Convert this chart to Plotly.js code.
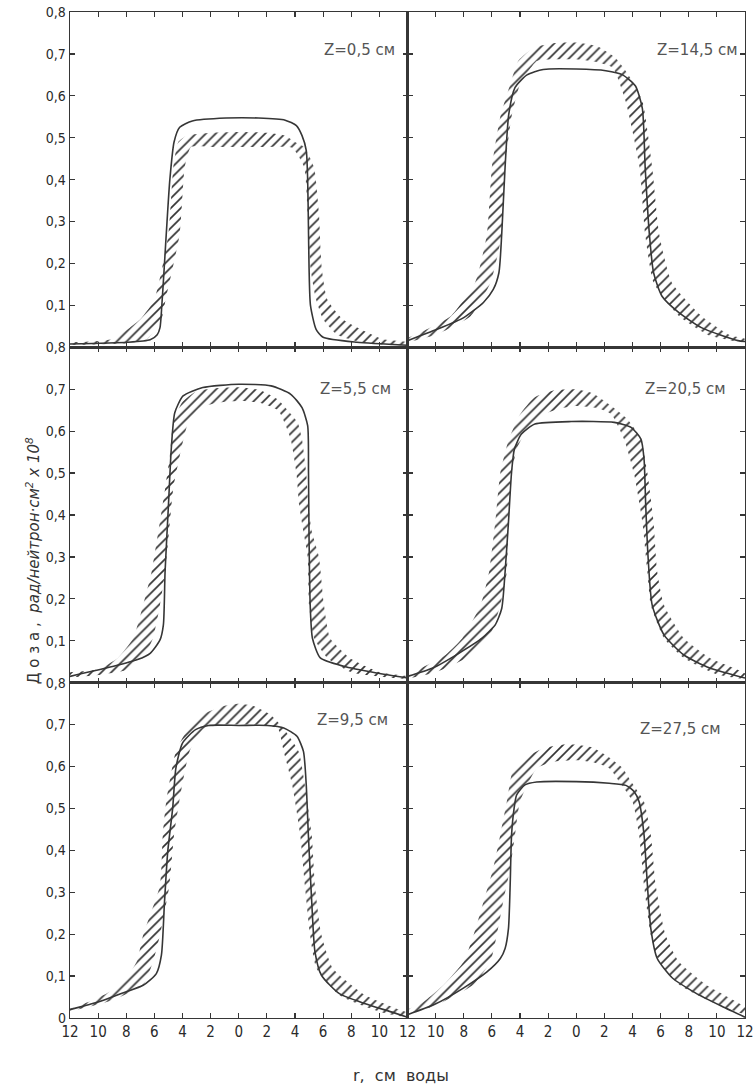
<!DOCTYPE html>
<html>
<head>
<meta charset="utf-8">
<script src="https://cdn.plot.ly/plotly-3.0.1.min.js"></script>
<style>html,body{margin:0;padding:0;background:#fff;}#chart{width:754px;height:1086px;}</style>
</head>
<body>
<div id="chart"></div>
<script>
// ---- data: r (cm water), dose (rad/neutron·cm² ×10^8) ----
const xTickVals = [-12,-10,-8,-6,-4,-2,0,2,4,6,8,10,12];
const xTickText = ['12','10','8','6','4','2','0','2','4','6','8','10','12'];
const yTickVals = [0,0.1,0.2,0.3,0.4,0.5,0.6,0.7,0.8];
const yTickText = ['0','0,1','0,2','0,3','0,4','0,5','0,6','0,7','0,8'];
const panelLabels = ['Z=0,5 см','Z=14,5 см','Z=5,5 см','Z=20,5 см','Z=9,5 см','Z=27,5 см'];

// Z = 0,5 cm
const calc_05 = [[-12,0.008],[-7.9,0.012],[-6.3,0.018],[-5.8,0.03],[-5.6,0.047],[-5.47,0.1],[-5.3,0.19],[-5.1,0.3],[-4.9,0.4],[-4.6,0.49],[-4.2,0.525],[-3.3,0.54],[-0.9,0.547],[1.4,0.547],[3.3,0.542],[4.1,0.529],[4.5,0.505],[4.8,0.47],[4.9,0.4],[4.95,0.3],[5.0,0.19],[5.1,0.1],[5.5,0.043],[6.0,0.024],[8.4,0.012],[12,0.005]];
const expOut_05 = [[-12,0.012],[-9,0.02],[-7,0.067],[-6,0.114],[-5,0.27],[-4.65,0.43],[-4.3,0.49],[-3.7,0.505],[-2,0.512],[0,0.514],[2,0.512],[3.3,0.505],[4.0,0.49],[4.65,0.478],[5.35,0.43],[5.7,0.32],[5.9,0.19],[6.3,0.114],[7.4,0.067],[10.2,0.02],[12,0.012]];
const expIn_05 = [[-12,0.006],[-8,0.01],[-6.5,0.02],[-5.5,0.067],[-5.2,0.114],[-4.2,0.27],[-3.84,0.43],[-3.4,0.478],[-2,0.478],[0,0.478],[2,0.478],[3.8,0.476],[4.65,0.43],[4.9,0.32],[5.1,0.19],[5.5,0.114],[6.0,0.067],[7,0.03],[9,0.01],[12,0.006]];

// Z = 14,5 cm
const calc_145 = [[-12,0.016],[-9.9,0.043],[-8,0.071],[-6.6,0.107],[-5.9,0.138],[-5.5,0.178],[-5.3,0.27],[-5.06,0.43],[-4.8,0.556],[-4.35,0.62],[-3.5,0.65],[-2.35,0.663],[0,0.664],[2.1,0.66],[3.3,0.65],[4.2,0.624],[4.7,0.57],[4.9,0.43],[5.2,0.27],[5.5,0.178],[6.1,0.122],[7.3,0.083],[8.9,0.047],[11.5,0.016],[12,0.014]];
const expOut_145 = [[-12,0.022],[-10.5,0.045],[-8.9,0.075],[-7.2,0.154],[-6.35,0.27],[-6.0,0.43],[-5.4,0.55],[-4.7,0.627],[-4.1,0.685],[-3.0,0.715],[-1.5,0.726],[0,0.727],[1.5,0.718],[2.8,0.69],[3.8,0.645],[4.7,0.588],[5.4,0.43],[5.9,0.27],[6.8,0.154],[8.9,0.075],[11,0.028],[12,0.02]];
const expIn_145 = [[-12,0.012],[-10,0.03],[-7.5,0.075],[-6.1,0.154],[-5.3,0.27],[-5.06,0.43],[-4.6,0.55],[-4.0,0.627],[-2.8,0.683],[-1.5,0.687],[0,0.687],[1.5,0.68],[2.6,0.667],[3.5,0.588],[4.5,0.43],[4.9,0.27],[5.5,0.154],[7.3,0.075],[9.5,0.028],[12,0.012]];

// Z = 5,5 cm
const calc_55 = [[-12,0.015],[-8.9,0.039],[-7.2,0.055],[-6.3,0.07],[-5.6,0.102],[-5.36,0.138],[-5.24,0.264],[-5.0,0.423],[-4.8,0.557],[-4.55,0.644],[-3.96,0.684],[-2.56,0.704],[0,0.712],[2.3,0.708],[3.7,0.688],[4.5,0.656],[4.9,0.613],[4.96,0.502],[5.0,0.344],[5.08,0.185],[5.24,0.106],[5.8,0.059],[7.46,0.039],[9.8,0.023],[12,0.011]];
const expOut_55 = [[-12,0.025],[-10,0.032],[-8.6,0.059],[-7.5,0.106],[-6.8,0.185],[-6.2,0.264],[-5.8,0.344],[-5.24,0.462],[-4.9,0.54],[-4.66,0.62],[-4.0,0.67],[-3.0,0.695],[-1.5,0.703],[0,0.705],[1.5,0.698],[2.8,0.675],[3.6,0.645],[4.2,0.62],[4.5,0.58],[4.8,0.5],[4.95,0.42],[5.2,0.36],[5.7,0.3],[6.06,0.185],[6.5,0.106],[7.9,0.059],[10,0.025],[12,0.015]];
const expIn_55 = [[-12,0.012],[-10,0.018],[-8,0.03],[-6.8,0.059],[-6.1,0.106],[-5.6,0.185],[-5.24,0.264],[-5.0,0.344],[-4.66,0.462],[-4.2,0.54],[-3.6,0.62],[-2.8,0.655],[-1.5,0.668],[0,0.672],[1.5,0.668],[2.8,0.65],[3.26,0.62],[3.7,0.58],[4.1,0.5],[4.3,0.423],[4.6,0.36],[4.9,0.3],[5.0,0.185],[5.36,0.106],[6.3,0.059],[8,0.025],[12,0.01]];

// Z = 20,5 cm
const calc_205 = [[-12,0.015],[-10.2,0.035],[-8.35,0.07],[-6.7,0.106],[-5.76,0.138],[-5.3,0.177],[-5.06,0.264],[-4.82,0.383],[-4.6,0.502],[-4.4,0.557],[-3.9,0.593],[-2.94,0.617],[-0.35,0.623],[2.7,0.621],[3.9,0.609],[4.6,0.581],[4.82,0.534],[4.94,0.423],[5.1,0.304],[5.4,0.185],[6.24,0.114],[7.65,0.066],[9.5,0.035],[12,0.011]];
const expOut_205 = [[-12,0.018],[-11,0.035],[-9.3,0.066],[-8.1,0.106],[-6.8,0.185],[-6.2,0.264],[-5.76,0.383],[-5.4,0.5],[-4.8,0.58],[-4.0,0.64],[-3.0,0.68],[-1.5,0.698],[0,0.70],[1.2,0.69],[2.3,0.665],[3.6,0.63],[4.6,0.581],[5.06,0.5],[5.5,0.383],[5.76,0.264],[6.24,0.185],[7.65,0.106],[9.5,0.059],[12,0.022]];
const expIn_205 = [[-12,0.01],[-10,0.025],[-7.4,0.066],[-6.2,0.106],[-5.4,0.185],[-4.94,0.264],[-4.82,0.383],[-4.6,0.5],[-4.2,0.56],[-3.4,0.61],[-2.3,0.64],[-1.0,0.655],[0,0.66],[1.5,0.655],[2.5,0.64],[3.4,0.581],[4.1,0.5],[4.7,0.383],[5.06,0.264],[5.3,0.185],[6.24,0.106],[7.65,0.059],[10,0.02],[12,0.01]];

// Z = 9,5 cm
const calc_95 = [[-12,0.02],[-10,0.038],[-8.4,0.058],[-6.8,0.078],[-5.86,0.106],[-5.5,0.15],[-5.28,0.277],[-5.05,0.397],[-4.7,0.5],[-4.47,0.596],[-4.0,0.656],[-3.07,0.688],[-2.14,0.698],[0,0.698],[2.05,0.698],[3.2,0.692],[4.14,0.672],[4.6,0.636],[4.8,0.556],[4.95,0.437],[5.19,0.277],[5.42,0.158],[5.88,0.102],[7.16,0.058],[9.0,0.034],[10.9,0.014],[12,0.002]];
const expOut_95 = [[-12,0.022],[-10.2,0.045],[-8.4,0.078],[-7.26,0.134],[-6.8,0.198],[-5.6,0.317],[-5.4,0.437],[-5.16,0.516],[-4.47,0.636],[-3.6,0.69],[-2.5,0.725],[-1,0.745],[0,0.75],[1,0.745],[2.2,0.725],[3.2,0.69],[4.26,0.636],[4.7,0.556],[5.19,0.437],[5.42,0.317],[5.88,0.198],[6.7,0.118],[9.0,0.054],[11,0.025],[12,0.012]];
const expIn_95 = [[-12,0.016],[-10,0.032],[-8.8,0.045],[-6.8,0.078],[-6.1,0.134],[-5.6,0.198],[-4.93,0.317],[-4.6,0.437],[-4.23,0.516],[-3.5,0.636],[-2.5,0.69],[-1,0.70],[0,0.70],[2,0.698],[2.8,0.69],[3.2,0.636],[3.8,0.556],[4.37,0.437],[4.7,0.317],[5.07,0.198],[5.53,0.118],[7.16,0.054],[10,0.015],[12,0.003]];

// Z = 27,5 cm
const calc_275 = [[-12,0.008],[-10.1,0.032],[-8.0,0.072],[-6.35,0.11],[-5.4,0.142],[-5.06,0.166],[-4.82,0.214],[-4.7,0.317],[-4.6,0.437],[-4.42,0.5],[-4.24,0.532],[-3.65,0.556],[-2.82,0.563],[0,0.564],[2.35,0.56],[3.53,0.555],[4.12,0.54],[4.47,0.516],[4.82,0.437],[5.06,0.317],[5.3,0.214],[5.76,0.142],[6.82,0.096],[8.47,0.06],[10.35,0.028],[12,0.002]];
const expOut_275 = [[-12,0.02],[-11,0.035],[-9.4,0.08],[-8,0.135],[-7.3,0.198],[-6.6,0.277],[-5.9,0.357],[-5.4,0.437],[-4.94,0.516],[-4.47,0.596],[-3.5,0.625],[-2.2,0.645],[-1,0.652],[0,0.652],[1.2,0.645],[2.2,0.625],[3.3,0.596],[3.9,0.564],[4.82,0.516],[5.3,0.437],[5.65,0.317],[6.35,0.198],[7.3,0.134],[9.2,0.08],[12,0.025]];
const expIn_275 = [[-12,0.01],[-10,0.03],[-7.3,0.08],[-6.1,0.135],[-5.65,0.198],[-5.2,0.277],[-4.7,0.357],[-4.35,0.437],[-4.0,0.516],[-2.8,0.596],[-1.5,0.612],[0,0.615],[1.2,0.61],[2.35,0.596],[3.06,0.564],[4.0,0.516],[4.47,0.437],[4.82,0.317],[5.3,0.198],[5.9,0.134],[7.3,0.08],[9.5,0.04],[12,0.01]];

// ---- build ----
const panels = [
  {calc: calc_05,  out: expOut_05,  inn: expIn_05,  label: panelLabels[0], n: '',  lx: 8.6, ly: 0.71},
  {calc: calc_145, out: expOut_145, inn: expIn_145, label: panelLabels[1], n: '2', lx: 8.6, ly: 0.71},
  {calc: calc_55,  out: expOut_55,  inn: expIn_55,  label: panelLabels[2], n: '3', lx: 8.3, ly: 0.70},
  {calc: calc_205, out: expOut_205, inn: expIn_205, label: panelLabels[3], n: '4', lx: 7.8, ly: 0.70},
  {calc: calc_95,  out: expOut_95,  inn: expIn_95,  label: panelLabels[4], n: '5', lx: 8.1, ly: 0.71},
  {calc: calc_275, out: expOut_275, inn: expIn_275, label: panelLabels[5], n: '6', lx: 7.4, ly: 0.69}
];

const LINE = '#363636';
const traces = [];
const annotations = [];
panels.forEach(p => {
  const xa = 'x' + p.n, ya = 'y' + p.n;
  const poly = p.out.concat(p.inn.slice().reverse());
  traces.push({
    x: poly.map(q => q[0]), y: poly.map(q => q[1]), xaxis: xa, yaxis: ya, mode: 'lines', fill: 'toself',
    fillcolor: 'rgba(255,255,255,0)',
    line: {width: 0, shape: 'spline', smoothing: 0.5},
    fillpattern: {shape: '/', size: 7, solidity: 0.24, fgcolor: '#333', bgcolor: 'rgba(255,255,255,0)'},
    hoverinfo: 'skip', showlegend: false
  });
  traces.push({
    x: p.calc.map(q => q[0]), y: p.calc.map(q => q[1]), xaxis: xa, yaxis: ya,
    mode: 'lines', line: {color: LINE, width: 1.6, shape: 'spline', smoothing: 0.6},
    hoverinfo: 'skip', showlegend: false
  });
  annotations.push({
    xref: xa, yref: ya, x: p.lx, y: p.ly, text: p.label, showarrow: false,
    font: {family: 'DejaVu Sans, sans-serif', size: 15, color: '#555'}, xanchor: 'center', yanchor: 'middle'
  });
});

const tickFont = {family: 'DejaVu Sans Condensed, DejaVu Sans, sans-serif', size: 14, color: '#2a2a2a'};
function xAxis(domain, anchor, labels, dropLeft) {
  const idx = xTickVals.map((v, i) => i).filter(i => !(dropLeft && xTickVals[i] === -12));
  return {domain, anchor, range: [-12, 12], showline: true, mirror: 'ticks', linecolor: LINE, linewidth: 1.3,
    ticks: 'inside', ticklen: 5, tickcolor: LINE, tickwidth: 1.2,
    tickvals: idx.map(i => xTickVals[i]), ticktext: idx.map(i => xTickText[i]),
    showticklabels: labels, ticklabeloverflow: 'allow', showgrid: false, zeroline: false,
    tickfont: Object.assign({}, tickFont, {size: 15}), fixedrange: true};
}
function yAxis(domain, anchor, labels, showZero) {
  const idx = yTickVals.map((v, i) => i).filter(i => showZero || yTickVals[i] > 0);
  return {domain, anchor, range: [0, 0.8], showline: true, mirror: 'ticks', linecolor: LINE, linewidth: 1.3,
    ticks: 'inside', ticklen: 5, tickcolor: LINE, tickwidth: 1.2,
    tickvals: idx.map(i => yTickVals[i]), ticktext: idx.map(i => yTickText[i]),
    showticklabels: labels, showgrid: false, zeroline: false, tickfont: tickFont, fixedrange: true};
}
const XL = [0, 0.5], XR = [0.5, 1];
const R1 = [2/3, 1], R2 = [1/3, 2/3], R3 = [0, 1/3];

annotations.push({
  xref: 'paper', yref: 'paper', x: -0.055, y: 0.455, textangle: -90, showarrow: false,
  text: 'Д о з а ,  <i>рад/нейтрон·см<sup>2</sup> x 10<sup>8</sup></i>',
  font: {family: 'DejaVu Sans, sans-serif', size: 15, color: '#333'}, xanchor: 'center', yanchor: 'middle'
});
annotations.push({
  xref: 'paper', yref: 'paper', x: 0.49, y: -0.057, showarrow: false,
  text: 'r,  см  воды',
  font: {family: 'DejaVu Sans, sans-serif', size: 16, color: '#333'}, xanchor: 'center', yanchor: 'middle'
});

const layout = {
  width: 754, height: 1086,
  margin: {l: 70, r: 9, t: 12, b: 68},
  paper_bgcolor: '#fff', plot_bgcolor: 'rgba(0,0,0,0)',
  showlegend: false,
  xaxis: xAxis(XL, 'y', false, false),   yaxis: yAxis(R1, 'x', true, false),
  xaxis2: xAxis(XR, 'y2', false, true),  yaxis2: yAxis(R1, 'x2', false, false),
  xaxis3: xAxis(XL, 'y3', false, false), yaxis3: yAxis(R2, 'x3', true, false),
  xaxis4: xAxis(XR, 'y4', false, true),  yaxis4: yAxis(R2, 'x4', false, false),
  xaxis5: xAxis(XL, 'y5', true, false),  yaxis5: yAxis(R3, 'x5', true, true),
  xaxis6: xAxis(XR, 'y6', true, true),   yaxis6: yAxis(R3, 'x6', false, true),
  annotations
};

Plotly.newPlot('chart', traces, layout, {displayModeBar: false, staticPlot: true});
</script>
</body>
</html>
